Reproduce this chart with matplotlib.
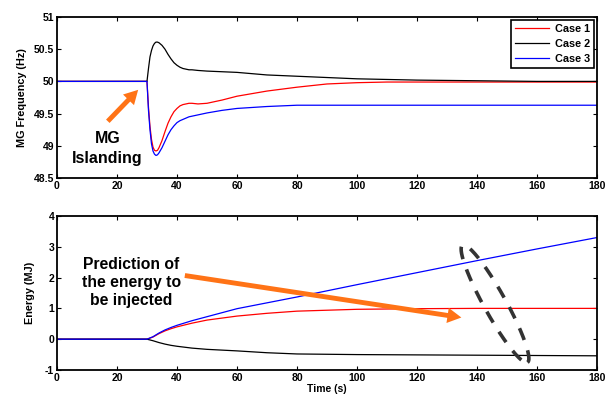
import matplotlib
matplotlib.use('Agg')
import matplotlib.pyplot as plt
import numpy as np

plt.rcParams['font.family'] = 'Liberation Sans'
plt.rcParams['font.weight'] = 'bold'

# frequency (Hz)
t_f = [0, 29.5, 30, 30.5, 31, 31.5, 32, 32.5, 33, 33.5, 34, 35, 36, 37, 38, 39, 40,
       41, 42, 43, 44, 45, 47, 50, 55, 60, 70, 80, 90, 100, 110, 120, 140, 160, 180]
f_case1 = [50, 50, 50, 49.6, 49.3, 49.1, 48.98, 48.93, 48.92, 48.93, 48.97, 49.08, 49.22,
           49.35, 49.45, 49.53, 49.58, 49.62, 49.64, 49.65, 49.66, 49.66, 49.65, 49.66,
           49.71, 49.77, 49.85, 49.91, 49.96, 49.98, 49.99, 49.99, 49.99, 49.99, 49.99]
f_case2 = [50, 50, 50, 50.2, 50.38, 50.48, 50.55, 50.59, 50.61, 50.61, 50.6, 50.56, 50.5,
           50.42, 50.35, 50.29, 50.25, 50.22, 50.2, 50.19, 50.18, 50.18, 50.17, 50.16,
           50.15, 50.14, 50.1, 50.08, 50.06, 50.04, 50.03, 50.02, 50.01, 50.0, 50.0]
f_case3 = [50, 50, 50, 49.55, 49.25, 49.03, 48.92, 48.87, 48.85, 48.86, 48.89, 48.97, 49.07,
           49.17, 49.25, 49.31, 49.36, 49.39, 49.41, 49.43, 49.45, 49.46, 49.48, 49.51,
           49.55, 49.58, 49.61, 49.63, 49.63, 49.63, 49.63, 49.63, 49.63, 49.63, 49.63]

# energy (MJ)
t_e = [0, 30, 32, 34, 36, 38, 40, 45, 50, 60, 70, 80, 100, 120, 140, 160, 180]
e_case1 = [0, 0, 0.07, 0.18, 0.27, 0.34, 0.40, 0.52, 0.62, 0.75, 0.84, 0.91, 0.97, 0.99, 1.0, 1.0, 1.0]
e_case2 = [0, 0, -0.05, -0.11, -0.16, -0.2, -0.23, -0.29, -0.33, -0.38, -0.44, -0.48, -0.5, -0.51, -0.52, -0.53, -0.54]
e_case3 = [0, 0, 0.08, 0.2, 0.3, 0.38, 0.45, 0.6, 0.73, 0.99, 1.18, 1.37, 1.77, 2.16, 2.55, 2.93, 3.30]

orange = '#ff7316'

fig = plt.figure(figsize=(6.12, 3.96), dpi=100)
ax1 = fig.add_axes([0.0931, 0.5505, 0.8824, 0.4066])
ax2 = fig.add_axes([0.0931, 0.0657, 0.8824, 0.3889])

for ax in (ax1, ax2):
    ax.tick_params(direction='in', top=True, right=True, labelsize=7.5, length=3, pad=2)
    for s in ax.spines.values():
        s.set_linewidth(1.3)
    ax.set_xlim(0, 180)
    ax.set_xticks(np.arange(0, 181, 20))
    for lab in ax.get_xticklabels() + ax.get_yticklabels():
        lab.set_fontweight('bold')

ax1.plot(t_f, f_case1, color='red', lw=0.9, label='Case 1')
ax1.plot(t_f, f_case2, color='black', lw=0.9, label='Case 2')
ax1.plot(t_f, f_case3, color='blue', lw=0.9, label='Case 3')
ax1.set_ylim(48.5, 51)
ax1.set_yticks([48.5, 49, 49.5, 50, 50.5, 51])
ax1.set_yticklabels(['48.5', '49', '49.5', '50', '50.5', '51'], fontweight='bold')
ax1.set_ylabel('MG Frequency (Hz)', fontsize=7.8, fontweight='bold', labelpad=5)
leg = ax1.legend(loc='upper right', prop={'weight': 'bold', 'size': 7.8},
                 fancybox=False, edgecolor='black', framealpha=1, handlelength=3.2,
                 borderaxespad=0.3, labelspacing=0.45, borderpad=0.35, handletextpad=0.5)
leg.get_frame().set_linewidth(1.2)

ax1.annotate('', xy=(27.7, 49.9), xytext=(16.3, 49.35),
             arrowprops=dict(arrowstyle='simple,head_width=1.1,head_length=1.0,tail_width=0.35',
                             color=orange, lw=0))
ax1.text(16.8, 48.96, 'MG\nIslanding', ha='center', va='center', fontsize=11.5,
         fontweight='bold', linespacing=1.4)

ax2.plot(t_e, e_case1, color='red', lw=0.9)
ax2.plot(t_e, e_case2, color='black', lw=0.9)
ax2.plot(t_e, e_case3, color='blue', lw=0.9)
ax2.set_ylim(-1, 4)
ax2.set_yticks([-1, 0, 1, 2, 3, 4])
ax2.set_yticklabels(['-1', '0', '1', '2', '3', '4'], fontweight='bold')
ax2.set_ylabel('Energy (MJ)', fontsize=7.8, fontweight='bold', labelpad=7)
ax2.set_xlabel('Time (s)', fontsize=7.5, fontweight='bold', labelpad=1)

ax2.annotate('', xy=(135.7, 0.69), xytext=(41.7, 2.08),
             arrowprops=dict(arrowstyle='simple,head_width=1.1,head_length=1.0,tail_width=0.35',
                             color=orange, lw=0))
ax2.text(24.8, 1.85, 'Prediction of\nthe energy to\nbe injected', ha='center', va='center',
         fontsize=11.3, fontweight='bold', linespacing=1.25)

# dashed ellipse drawn in pixel offsets around its centre
cx, cy = 146.0, 1.15
px_x = 540 / 180.0
px_y = 154 / 5.0
ang = np.deg2rad(-61)
a, b = 67, 11
th = np.linspace(0, 2 * np.pi, 200)
ex = a * np.cos(th) * np.cos(ang) - b * np.sin(th) * np.sin(ang)
ey = a * np.cos(th) * np.sin(ang) + b * np.sin(th) * np.cos(ang)
ax2.plot(cx + ex / px_x, cy + ey / px_y, color='#333333', lw=2.6, ls=(0, (3.5, 3)),
         solid_capstyle='butt')

fig.savefig('out.png', dpi=100)
